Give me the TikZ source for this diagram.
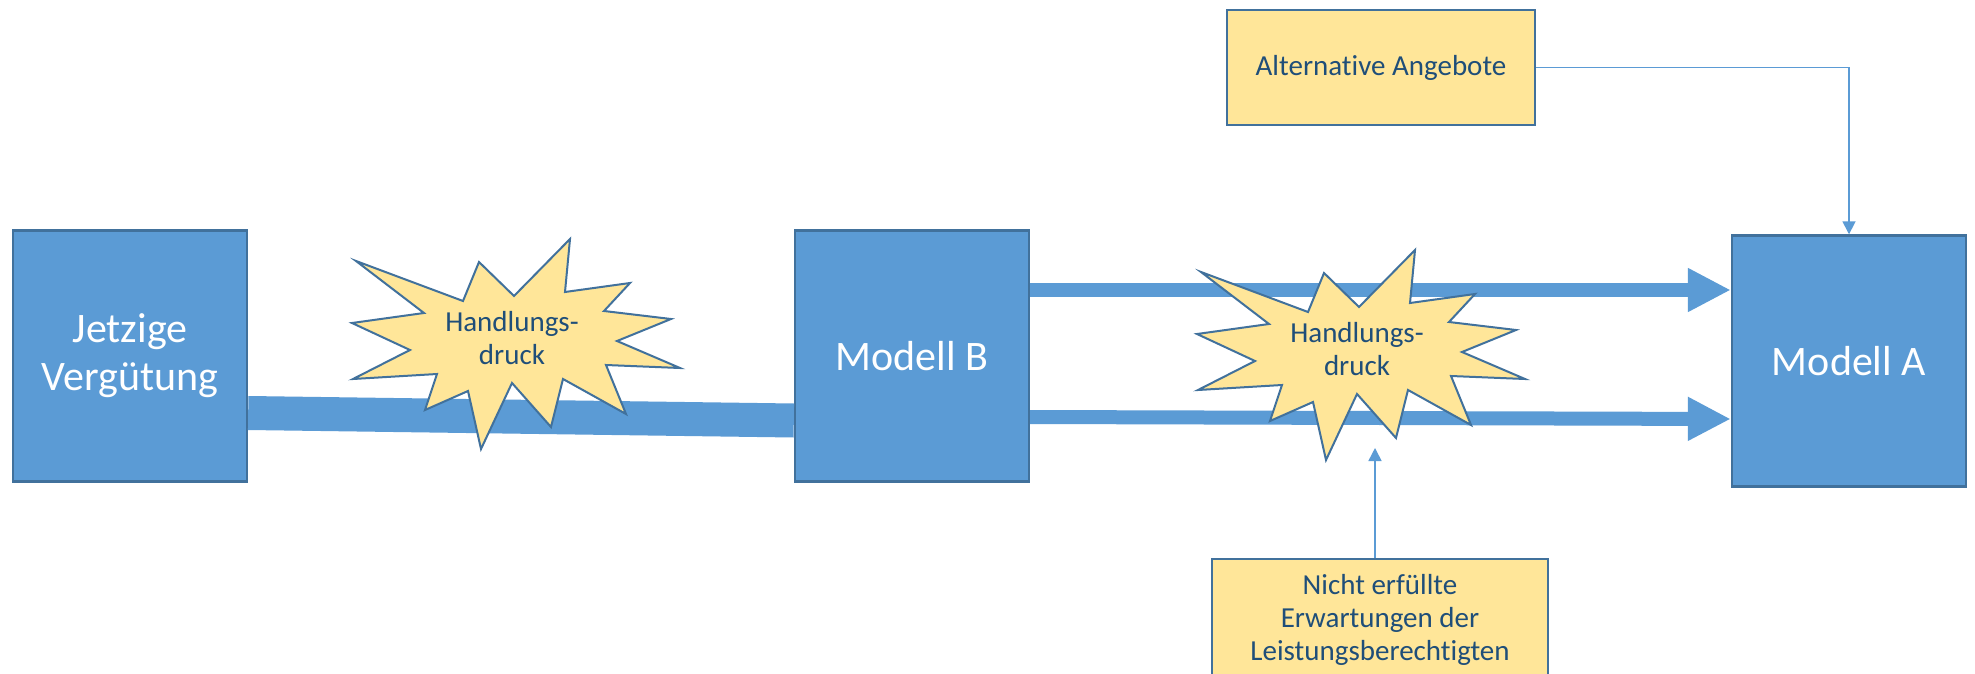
\documentclass[tikz,border=0pt]{standalone}
\usepackage{fontspec}
\setmainfont{Carlito}[Ligatures=NoCommon]
\usetikzlibrary{arrows.meta}
\definecolor{boxblue}{HTML}{5B9BD5}
\definecolor{edgeblue}{HTML}{41719C}
\definecolor{softyellow}{HTML}{FFE699}
\definecolor{navytext}{HTML}{1F4E79}
\newlength\pxu \setlength\pxu{0.5pt}
\begin{document}
\begin{tikzpicture}[x=0.5pt,y=-0.5pt,
 bluebox/.style={draw=edgeblue, line width=1.2pt, fill=boxblue, inner sep=0pt, minimum width=234\pxu, minimum height=251\pxu, text=white, font=\fontsize{21}{24}\selectfont, align=center},
 yellowbox/.style={draw=edgeblue, line width=1.2pt, fill=softyellow, inner sep=0pt, text=navytext, font=\fontsize{14.5}{16.5}\selectfont, align=center},
 burst/.style={draw=edgeblue, line width=1pt, fill=softyellow, line join=miter},
 bursttext/.style={text=navytext, font=\fontsize{14.5}{16.5}\selectfont, align=center, inner sep=0pt},
 band/.style={draw=boxblue, line width=17pt},
 fatarrow/.style={draw=boxblue, line width=7pt, -{Triangle[length=21.5pt,width=20.5pt]}},
 thinarrow/.style={draw=boxblue, line width=0.8pt, -{Triangle[length=6.5pt,width=6.5pt]}},
 burstshape/.pic={\draw[burst] (356,261)--(463,301)--(479,262)--(514,296)--(570,239)--(565,292)--(630,283)--(604,311)--(671,319)--(617,341)--(680,368)--(606,365)--(626,414)--(563,379)--(551,427)--(512,383)--(481,449)--(468,391)--(425,410)--(437,374)--(353,379)--(410,350)--(352,323)--(424,313)--cycle;}]
\useasboundingbox (0,0) rectangle (1975,674);
\fill[white] (0,0) rectangle (1975,674);
% boxes
\node[bluebox] (jv) at (130,356) {Jetzige\\Vergütung};
\node[bluebox] (mb) at (912,356) {Modell B};
\node[bluebox] (ma) at (1849,361) {Modell A};
\node[yellowbox, minimum width=308\pxu, minimum height=115\pxu] (alt) at (1381,67.5) {Alternative Angebote};
\node[yellowbox, minimum width=336\pxu, minimum height=122\pxu] (ne) at (1380,620) {Nicht erfüllte\\Erwartungen der\\Leistungsberechtigten};
% connectors
\draw[band] (jv.east |- 0,413) -- (mb.west |- 0,420.5);
\draw[fatarrow] (mb.east |- 0,290) -- (ma.west |- 0,290);
\draw[fatarrow] (mb.east |- 0,417) -- (ma.west |- 0,419);
\draw[thinarrow] (alt.east) -| (ma.north);
\coordinate (nt) at (1375,448);
\draw[thinarrow] (nt |- ne.north) -- (nt);
% bursts
\pic at (0,0) {burstshape};
\pic at (845,11) {burstshape};
\node[bursttext] (hd1) at (512,338) {Handlungs-\\druck};
\node[bursttext] (hd2) at (1357,349) {Handlungs-\\druck};
\end{tikzpicture}
\end{document}
